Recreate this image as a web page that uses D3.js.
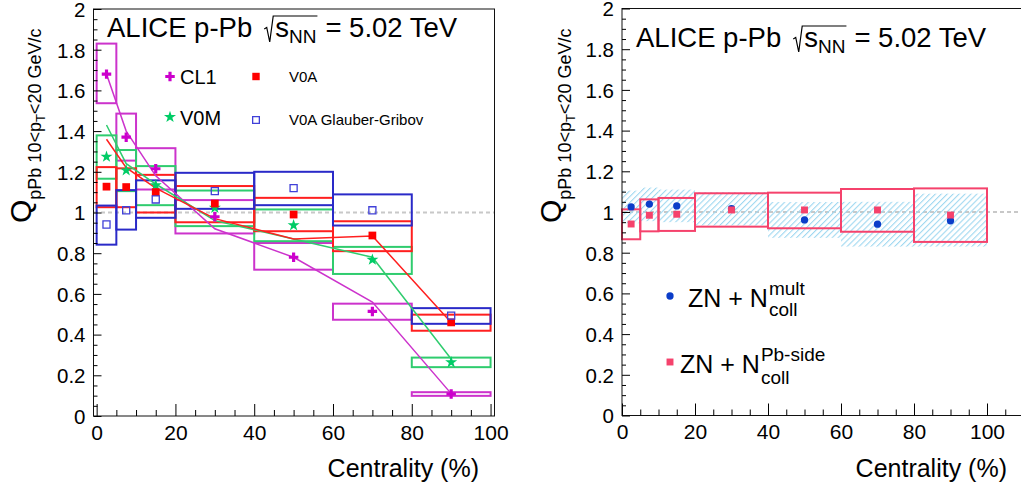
<!DOCTYPE html>
<html><head><meta charset="utf-8">
<script src="https://cdn.jsdelivr.net/npm/d3@7"></script>
<style>
body{margin:0;background:#fff;}
svg{display:block;font-family:"Liberation Sans",Arial,Helvetica,sans-serif;}
</style></head><body>
<svg id="c" width="1021" height="488"></svg>
<script>
// ---------------- data ----------------
const binLo = [0, 5, 10, 20, 40, 60, 80];
const binHi = [5, 10, 20, 40, 60, 80, 100];
const binCenter = [2.5, 7.5, 15, 30, 50, 70, 90];
const xTickLabels = [0, 20, 40, 60, 80, 100];
const yTickLabels = [0, 0.2, 0.4, 0.6, 0.8, 1, 1.2, 1.4, 1.6, 1.8, 2];

// left panel
const cl1Value = [1.68, 1.37, 1.215, 0.979, 0.78, 0.514, 0.108];
const cl1SysLo = [1.537, 1.255, 1.113, 0.897, 0.719, 0.473, 0.099];
const cl1SysHi = [1.83, 1.486, 1.316, 1.061, 0.85, 0.552, 0.117];
const cl1Model = [1.68, 1.40, 1.18, 0.92, 0.78, 0.56, 0.11];

const v0mValue = [1.274, 1.207, 1.134, 1.023, 0.937, 0.768, 0.264];
const v0mSysLo = [1.166, 1.105, 1.036, 0.933, 0.859, 0.698, 0.24];
const v0mSysHi = [1.379, 1.307, 1.228, 1.108, 1.015, 0.831, 0.287];
const v0mModel = [1.43, 1.24, 1.14, 0.96, 0.87, 0.78, 0.28];

const v0aValue = [1.127, 1.125, 1.10, 1.044, 0.99, 0.887, 0.46];
const v0aSysLo = [1.026, 1.026, 1.0, 0.952, 0.908, 0.81, 0.419];
const v0aSysHi = [1.223, 1.217, 1.185, 1.13, 1.072, 0.957, 0.498];
const v0aModel = [1.36, 1.22, 1.12, 0.97, 0.87, 0.885, 0.46];

const ggValue = [0.941, 1.011, 1.064, 1.105, 1.12, 1.011, 0.493];
const ggSysLo = [0.842, 0.916, 0.974, 1.018, 1.036, 0.936, 0.453];
const ggSysHi = [1.034, 1.11, 1.158, 1.195, 1.20, 1.089, 0.530];

// right panel
const znMultValue = [1.025, 1.039, 1.03, 1.016, 0.961, 0.94, 0.957];
const znMultSysLo = [0.945, 0.955, 0.95, 0.934, 0.873, 0.83, 0.83];
const znMultSysHi = [1.105, 1.12, 1.11, 1.098, 1.049, 1.05, 1.09];

const znPbValue = [0.941, 0.984, 0.989, 1.01, 1.01, 1.01, 0.985];
const znPbSysLo = [0.866, 0.905, 0.907, 0.928, 0.92, 0.903, 0.853];
const znPbSysHi = [1.013, 1.062, 1.069, 1.092, 1.095, 1.113, 1.116];

// ---------------- colours ----------------
const cMag = "#cc33cc", cGreen = "#2fcc6e", cRed = "#ff1f1f", cBlue = "#2a2ac8";
const cPink = "#f5426c", cZnBlue = "#0b3dc9", cHatch = "#9fd8f0";

const svg = d3.select("#c");
const defs = svg.append("defs");
const pat = defs.append("pattern").attr("id", "hatch").attr("patternUnits", "userSpaceOnUse")
  .attr("width", 4.2).attr("height", 4.2).attr("patternTransform", "rotate(45)");
pat.append("rect").attr("x", 0).attr("y", 0).attr("width", 1.1).attr("height", 4.2)
  .style("fill", cHatch);

// ---------------- scales ----------------
const xL = d3.scaleLinear().domain([-0.8, 101]).range([93.5, 494.5]);
const yL = d3.scaleLinear().domain([0, 2]).range([416, 9]);
const xR = d3.scaleLinear().domain([0, 110]).range([622, 1023.5]);
const yR = d3.scaleLinear().domain([0, 2]).range([415.5, 8.5]);

function axes(x, y, xMinorMax) {
  const g = svg.append("g");
  const y0 = y.range()[0], x0 = x.range()[0];
  const xMinor = d3.range(5, xMinorMax + 1, 5).filter(v => v % 20 !== 0);
  const yMinor = d3.range(1, 40).map(i => i * 0.05).filter((v, i) => (i + 1) % 4 !== 0);
  const fmt = d3.format("~g");
  g.append("g").attr("transform", `translate(0,${y0})`)
    .call(d3.axisBottom(x).tickValues(xMinor).tickSizeInner(-6).tickSizeOuter(0).tickFormat(""))
    .call(a => a.select(".domain").remove());
  g.append("g").attr("transform", `translate(0,${y0})`)
    .call(d3.axisBottom(x).tickValues(xTickLabels).tickSizeInner(-12).tickSizeOuter(0).tickPadding(9).tickFormat(fmt))
    .call(a => a.select(".domain").remove())
    .attr("font-size", 21).attr("font-family", null);
  g.append("g").attr("transform", `translate(${x0},0)`)
    .call(d3.axisLeft(y).tickValues(yMinor).tickSizeInner(-4).tickSizeOuter(0).tickFormat(""))
    .call(a => a.select(".domain").remove());
  g.append("g").attr("transform", `translate(${x0},0)`)
    .call(d3.axisLeft(y).tickValues(yTickLabels).tickSizeInner(-8).tickSizeOuter(0).tickPadding(8).tickFormat(fmt))
    .call(a => a.select(".domain").remove())
    .attr("font-size", 20.5).attr("font-family", null)
    .call(a => a.selectAll("text").attr("dy", "0.36em"));
  g.selectAll("line").attr("stroke", "#000");
  g.selectAll("text").attr("fill", "#000");
}

function frame(x, y, x1) {
  svg.append("rect").attr("x", x.range()[0]).attr("y", y.range()[1])
    .attr("width", x1 - x.range()[0]).attr("height", y.range()[0] - y.range()[1])
    .attr("fill", "none").attr("stroke", "#111").attr("stroke-width", 1);
}

function unity(x, y, xa, xb) {
  svg.append("line").attr("x1", xa).attr("x2", xb).attr("y1", y(1)).attr("y2", y(1))
    .attr("stroke", "#c8c8c8").attr("stroke-width", 2).attr("stroke-dasharray", "4,3");
}

function boxes(x, y, lo, hi, color, fill, sw) {
  svg.append("g").selectAll("rect").data(binLo).join("rect")
    .attr("x", (d, i) => x(binLo[i])).attr("width", (d, i) => x(binHi[i]) - x(binLo[i]))
    .attr("y", (d, i) => y(hi[i])).attr("height", (d, i) => y(lo[i]) - y(hi[i]))
    .attr("fill", fill).attr("stroke", color).attr("stroke-width", sw);
}

function model(x, y, vals, color) {
  svg.append("path").datum(vals)
    .attr("d", d3.line().x((d, i) => x(binCenter[i])).y(d => y(d)))
    .attr("fill", "none").attr("stroke", color).attr("stroke-width", 1.5);
}

function markers(x, y, vals, type, size, color, open) {
  svg.append("g").selectAll("path").data(vals).join("path")
    .attr("transform", (d, i) => `translate(${x(binCenter[i])},${y(d)})`)
    .attr("d", d3.symbol().type(type).size(size))
    .attr("fill", open ? "none" : color).attr("stroke", open ? color : "none").attr("stroke-width", 1.3);
}

function yTitle(tx, ty) {
  const t = svg.append("text").attr("transform", `translate(${tx},${ty}) rotate(-90)`).attr("fill", "#000");
  t.append("tspan").attr("font-size", 30).text("Q");
  t.append("tspan").attr("font-size", 18).attr("dy", 10).text("pPb 10<p");
  t.append("tspan").attr("font-size", 13).attr("dy", 4).text("T");
  t.append("tspan").attr("font-size", 18).attr("dy", -4).text("<20 GeV/c");
}

function xTitle(xEnd) {
  svg.append("text").attr("x", xEnd).attr("y", 477).attr("text-anchor", "end")
    .attr("font-size", 25).attr("fill", "#000").text("Centrality (%)");
}

function header(x0, base) {
  const g = svg.append("g").attr("fill", "#000");
  const fs = 27.5;
  const t1 = g.append("text").attr("x", x0).attr("y", base).attr("font-size", fs).text("ALICE p-Pb");
  const w1 = t1.node().getComputedTextLength();
  const rx = x0 + w1 + 12;
  const ts = g.append("text").attr("x", rx + 11).attr("y", base).attr("font-size", fs).text("s");
  const ws = ts.node().getComputedTextLength();
  const tn = g.append("text").attr("x", rx + 11 + ws).attr("y", base + 6).attr("font-size", 19).text("NN");
  const wn = tn.node().getComputedTextLength();
  const end = rx + 11 + ws + wn + 1;
  g.append("path").attr("d", `M${rx},${base - 8} L${rx + 2.5},${base - 9.5} L${rx + 5.5},${base + 5} L${rx + 9},${base - 21} L${end},${base - 21}`)
    .attr("fill", "none").attr("stroke", "#000").attr("stroke-width", 1.2);
  g.append("text").attr("x", end + 8).attr("y", base).attr("font-size", fs).text("= 5.02 TeV");
}

// ================= LEFT PANEL =================
unity(xL, yL, 94, 494);
boxes(xL, yL, cl1SysLo, cl1SysHi, cMag, "none", 2);
boxes(xL, yL, v0mSysLo, v0mSysHi, cGreen, "none", 2);
boxes(xL, yL, v0aSysLo, v0aSysHi, cRed, "none", 2);
boxes(xL, yL, ggSysLo, ggSysHi, cBlue, "none", 2);
model(xL, yL, cl1Model, cMag);
model(xL, yL, v0mModel, cGreen);
model(xL, yL, v0aModel, cRed);
markers(xL, yL, cl1Value, d3.symbolCross, 50, "#cc00cc", false);
markers(xL, yL, v0mValue, d3.symbolStar, 45, "#00cc66", false);
markers(xL, yL, v0aValue, d3.symbolSquare, 60, "#ff0000", false);
markers(xL, yL, ggValue, d3.symbolSquare, 50, "#4040d8", true);
frame(xL, yL, 494.5);
axes(xL, yL, 95);
yTitle(31, 223);
xTitle(479);
header(107, 37);

// left legend
const legL = svg.append("g").attr("fill", "#000");
function legMark(x, y, type, size, color, open) {
  legL.append("path").attr("transform", `translate(${x},${y})`).attr("d", d3.symbol().type(type).size(size))
    .attr("fill", open ? "none" : color).attr("stroke", open ? color : "none").attr("stroke-width", 1.3);
}
legMark(170, 76.5, d3.symbolCross, 50, "#cc00cc", false);
legMark(170, 117, d3.symbolStar, 45, "#00cc66", false);
legMark(256, 76.5, d3.symbolSquare, 55, "#ff0000", false);
legMark(256, 120, d3.symbolSquare, 45, "#4040d8", true);
legL.append("text").attr("x", 180).attr("y", 84).attr("font-size", 20).text("CL1");
legL.append("text").attr("x", 180).attr("y", 125).attr("font-size", 20).text("V0M");
legL.append("text").attr("x", 289).attr("y", 82).attr("font-size", 15).text("V0A");
legL.append("text").attr("x", 289).attr("y", 125).attr("font-size", 15).text("V0A Glauber-Gribov");

// ================= RIGHT PANEL =================
unity(xR, yR, 622, 1021);
boxes(xR, yR, znMultSysLo, znMultSysHi, "none", "url(#hatch)", 0);
boxes(xR, yR, znPbSysLo, znPbSysHi, cPink, "none", 2);
markers(xR, yR, znMultValue, d3.symbolCircle, 42, cZnBlue, false);
markers(xR, yR, znPbValue, d3.symbolSquare, 48, cPink, false);
frame(xR, yR, 1023.5);
axes(xR, yR, 105);
yTitle(561, 223);
xTitle(1007);
header(636, 47);

// right legend
const legR = svg.append("g").attr("fill", "#000");
legR.append("path").attr("transform", "translate(670,296)").attr("d", d3.symbol().type(d3.symbolCircle).size(42)).attr("fill", cZnBlue);
legR.append("path").attr("transform", "translate(670,362)").attr("d", d3.symbol().type(d3.symbolSquare).size(48)).attr("fill", cPink);
function znLabel(x, base, sup, supBase, subBase) {
  const t = legR.append("text").attr("x", x).attr("y", base).attr("font-size", 25).text("ZN + N");
  const w = t.node().getComputedTextLength();
  legR.append("text").attr("x", x + w + 1).attr("y", supBase).attr("font-size", 19).text(sup);
  legR.append("text").attr("x", x + w + 1).attr("y", subBase).attr("font-size", 19).text("coll");
}
znLabel(688, 307, "mult", 295, 316);
znLabel(680, 373, "Pb-side", 361, 384);
</script>
</body></html>
